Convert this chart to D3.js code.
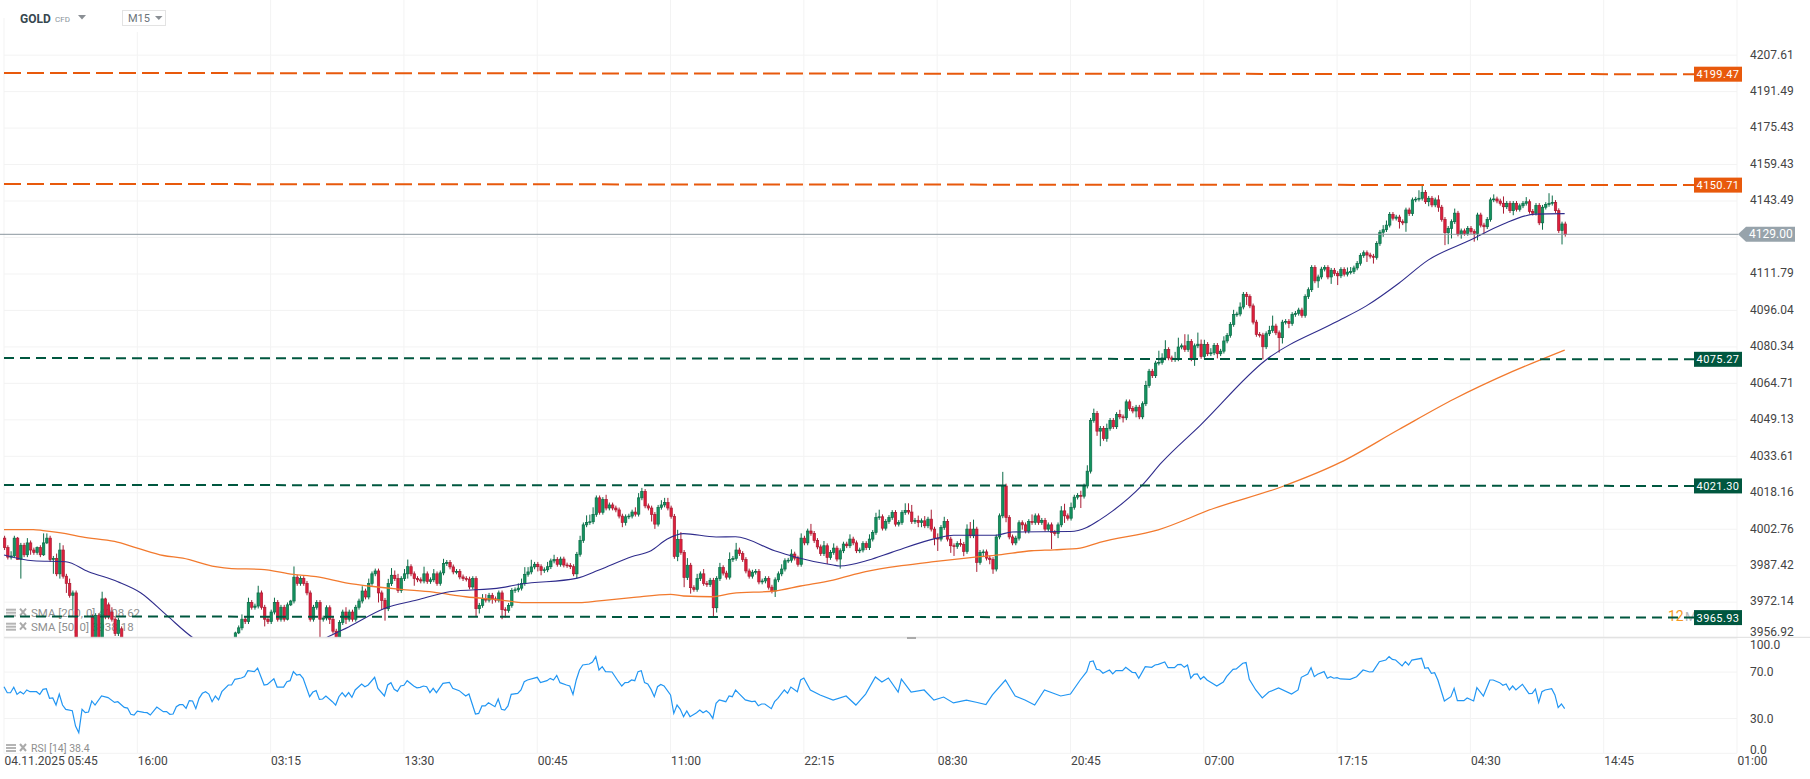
<!DOCTYPE html>
<html>
<head>
<meta charset="utf-8">
<script src="https://d3js.org/d3.v7.min.js"></script>
<style>
  html, body { margin: 0; padding: 0; background: #fff; overflow: hidden; }
  svg { display: block; font-family: Roboto, sans-serif; }
</style>
</head>
<body>
<svg id="chart" width="1810" height="779"></svg>
<script>
// M15 closes, one per candle
const closes = [
  3995,3991,3991.5,3999,3990,3996,3992,3997,3994,3993,3995,3992,3997,3999,3990,3990.5,3984,3994,3983,3980,
  3975,3976,3952,3950,3948,3949,3956,3955,3966.5,3957,3973.5,3966,3966,3965,3959,3964.6,3952,3950,3948,3945,
  3943,3942,3940,3938,3940,3942,3941,3939,3938,3936,3935,3937,3938,3936,3935,3938,3940,3941,3943,3944,
  3945,3946,3947,3948,3949,3950,3951,3952,3953,3954,3955,3959.3,3961.4,3965,3964,3972,3970,3970.5,3976,3970,
  3965,3964,3968,3972,3965,3970,3965,3971,3972.6,3982.6,3980,3982,3980,3976,3965,3970,3972,3965,3965.5,3969.8,
  3965,3960,3957.5,3963.6,3968,3965,3968,3965,3970,3972.6,3976.8,3974.3,3980,3984,3985.2,3976,3972.9,3969.4,3979.9,3983.4,
  3982,3977,3982,3984,3987,3984,3982,3981.5,3981,3984,3980.8,3981.5,3984,3980,3984.4,3988.3,3988.8,3986.9,3984.8,3985,
  3982.7,3982,3981.8,3978.5,3982,3969.4,3970.8,3973.5,3973,3975,3973.5,3973,3976,3969,3968.7,3970.8,3977,3977.3,3978,3980,
  3983.8,3984.8,3986.9,3988,3987,3985.4,3985.7,3987,3989.4,3990,3988,3990.2,3987.7,3987.5,3987,3984,3992.2,3998,4004.6,4005.6,
  4005.9,4009,4016,4009.9,4015.3,4011.7,4013,4011.7,4010.9,4008.3,4005.6,4008,4008.3,4010,4009.1,4016,4018.7,4012.6,4011.7,4009,
  4004.9,4012,4013,4014,4011.7,4008.2,3991.3,3998.5,3993,3982.4,3987.6,3978.2,3977.5,3982,3984,3980,3979.5,3981.3,3969.8,3982,
  3986.6,3984.3,3982.6,3990,3990.5,3994,3992.5,3990,3985.2,3983,3984.7,3985,3980.6,3981,3982,3978.4,3976.8,3981.5,3984,3986,
  3989.5,3989.7,3992.3,3990.6,3988,3999,3997,4002,4001,3998,3995.3,3992.5,3995.8,3990.9,3993,3994.8,3990.2,3993.7,3996.5,3995.8,
  3998.6,3997,3993.7,3994,3996.7,3995,3998.6,4001.4,4007.7,4008,4003.2,4006,4007.7,4009.8,4004.9,4005.6,4009.8,4010.7,4010,4006,
  4006.5,4005.6,4006.3,4004.2,4007,4002.8,3999,3998.6,4003.5,4006,3998.6,3995.8,3995.5,3996.7,3996.4,3993.4,4002.8,4000,4002.8,3988.8,
  3993,3993.2,3990.6,3990,3986,3999.5,4008.4,4021,4007.7,3999.5,3997,3999,4005.5,4004.6,4002,4006,4005.6,4008.4,4005.6,4006.5,
  4002.8,4004.6,4001.4,4001,4004.6,4010.5,4008.4,4007.4,4012,4016.3,4017,4016.7,4021,4027.3,4048.9,4051.9,4044.3,4045.5,4041.2,4045.5,
  4048.9,4046.2,4051.4,4050.4,4050,4056.8,4054,4052.9,4054.5,4050.4,4056,4063.8,4069.9,4068,4073.4,4073.7,4075.6,4079.2,4075.6,4074.9,
  4075.2,4080.3,4080.8,4079.2,4082.7,4075.2,4080.8,4081.5,4076.2,4081.4,4077.4,4077.8,4081,4077.4,4078.5,4082.9,4085.3,4090,4094.3,4094.5,
  4097.5,4103,4102,4098,4091,4085.7,4085.4,4080.4,4086,4087.4,4089.3,4086.4,4084.3,4091,4091.3,4090.4,4094.3,4094.8,4096.2,4093.9,
  4102,4105,4114.6,4108.8,4110.5,4113.9,4114.6,4110.5,4113.4,4112,4111,4113.7,4111.7,4112.6,4112.8,4114.4,4116.4,4119.8,4121,4120,
  4119.5,4119,4125,4129.9,4131,4133,4137.7,4136,4136.5,4134.5,4134,4139.6,4138,4144,4144.3,4144.7,4147.3,4143.2,4144.7,4141.8,
  4144,4140.8,4135.5,4129.7,4131.6,4134.5,4138.2,4129.1,4130.5,4129.4,4131.6,4130.2,4129.4,4137.4,4133,4132.3,4135.5,4144,4144.4,4143.5,
  4142.5,4141,4142.5,4139.3,4142.5,4139.9,4141.4,4142.5,4143.2,4139,4138.2,4141.6,4134,4140.8,4142,4142.5,4142.9,4139.3,4130.6,4133.5,4129
];
// wick lengths above / below the body
const wickUp = [
  1,1,2,1,0.5,1,1,2,1,1,0.5,1,4,2,1,1,2,3,2,1,
  2,1,1,0,0,0,1,1,1,1,3,0.5,1,2,1,1,1,0,0,0,
  0,0,0,0,0,0,0,0,0,0,0,0,0,0,0,0,0,0,0,0,
  0,0,0,0,0,0,0,0,0,0,0,0.5,1,2,1,2,1,1,3,1,
  1,1,1,2,1,1,1,1,0.5,4.5,1,1,1,1,1,1,1,1,1,1,
  1,1,1,1,1,2,1,1,1,1,2,1,2,1,1,1,1,1,2,3,
  2,2,1,2,3,1,1,1,1,3,1,1,2,1,1,2,1,1,1,1,
  1,1,1,1,1,1,1,2,2,1,1,1,1,1,1,1,1,1,2,2,
  3,2,3,1,1,1,1,2,1,2,1,1,1,1,1,1,1,2,1,3,
  3,3,1,1,1,2,1,1,1,1,1,1,1,1,2,2,1.5,1,1,1,
  1,1,2,2,2,1,1,4,3,1,3,1,1,2,1,2,1,1,1,1,
  2,1,1,3,1,3,1,1,1,1,1,1,1,1,1,1,1,1,1,2,
  1,1,2,1,1,2,1,1,3,1,1,1,2,1,1,2,1,1,1,1,
  2,1,1,1,1,1,2,1,2,3,1,1,1,1,1,1,1,3,3,3,
  1,2,1,2,1,4,1,2,1,2,1,1,1,1,2,1,2,3,4,1,
  1,1,1,1,1,1,1,6,1,1,1,1,1,1,1,1,3,1,1,1,
  1,1,1,1,1,2,3,1,2,1,1,2,1,2.5,1,2,1,1,1,2,
  1,1,1,2,1,1,1,1,1,1,1,2,1,1,1,5,2,4,1,1,
  3,4,1,5,3,1,1,5,2,2,1,2,1,1,1,2,1,1,2,1,
  2,1,1,1,1,1,1,1,1,2,4.5,1,1,1,1,1,1,1,1,1,
  1,1,1,1,1,1,1,1,1,1,1,1,1,2,2,1,1,1,1,1,
  1,1,1,1,2,2,1,1,1,1,1,1,1,1,1,3.5,3,1,1,1,
  1,2,1,1,1,1,2,1,1,1,1,1,1,1,1,1,1,1,2,1,
  1,3,1,1,1,1,1,1,2,1,1,1,1,1,1,4.4,3,1,1,1,1
];
const wickDown = [
  1,1,1,0.5,0,8,1,1,2,1,1,1,0.5,0.5,1,6,1,2,1,4,
  1,6,1,0,0,0,3,0,0,0,1,1,1,1,1,1,0,0,0,0,
  0,0,0,0,0,0,0,0,0,0,0,0,0,0,0,0,0,0,0,0,
  0,0,0,0,0,0,0,0,0,0,0,0,0.5,1,1,1,1,1,1,1,
  3,1,1,1,1,1,1,0.5,0.5,1,1,1,1,1,1,1,1,8,1,1,
  2,1,1,1,1,2,1,1,1,1,1,1,1,1,1,4,4,5,1,1,
  1,1,1,1,2,1,3,1,1,1,1,1,1,1,1,1,1,1,1,1,
  1,1,1,1,1,3.3,2,1,1,1,2,1,1,4,3,1,1,1,1,1,
  1,1,1,1,2,2,1,1,1,1,1,1,1,1,1,1,2,1,1,1,
  1,1,1,1,1,1,1,1,1,1,2,1.3,1,1,1,1,1,1,1,3,
  2,1,1,1,1,1,1,2,1,4,1,2.5,1,1,1,1,1,1,3.6,2,
  1,1,1,1,1,1,1,1,1,1,1,1,1,1,1,1,1,2.5,1,1,
  1,1,1,1,1,1,1,1,1,1,1,1,1,2.8,1,1,1,4,1,1,
  1,1,1,1,1,1,1,1,1,1,1,1,1,1,1,1,1,1,1,1,
  1,2,2,1,1,1,3,5,1,1,1,3,4,1,1,2,1,1,1,4,
  1,2,1,2,2,1,1,1,2,1,1,1,1,2,1,1,1,1,1,1,
  1,1,7,1,2,1,3,1,1,1,1,5,1,1,1,1,2,6.4,1,1.4,
  1,1,1,1,2,1,1,1,2.7,1,1,1,1,1,1,1,1,1,1,1,
  1,1,1,1,1,1,3,1,1,1,1,1,1,2,1,1,1,1,1,1,
  1,1,3.6,1,1,1,1,5.4,1,1,1,1,6.4,2.5,1,2,1,1,1,1,
  1,1,1,1,3,1,1,1,3,1,4,1,1,1,1,1,1,1,1,3,
  1,2.7,1,1,2,1,1,1,1,3,1,3.9,1,1,1,1,1,1,2,1,
  1,2,1,5.4,5,4.4,1,1,2,1,1,1,3.6,3,1,3,1,1,1,1,
  1,3,1,1,2,1,1,1,1,1,1,1,1,3,1,1,1,1,1,6,1
];
// candles whose open sits away from the previous close
const gapIndex = [0, 27, 32, 33, 36];
const gapOpen = [3999, 3966, 3971, 3968, 3961];

// moving averages, read at the points where the curves bend
const sma200Index = [0,9,12,19,24,34,41,49,55,65,70,79,89,96,106,112,122,132,142,153,160,177,183,193,205,209,218,224,237,245,255,265,276,286,298,306,316,323,331,337,355,372,393,411,429,446,464,480];
const sma200Value = [4002.6,4002.6,4002.2,4000.9,3999.5,3997.6,3994.8,3991.7,3990.6,3987,3986.2,3985.9,3983.8,3982.8,3980,3978.9,3977.5,3976.3,3974.4,3973,3971.9,3971.9,3972.7,3974,3975.4,3974.7,3974.4,3975.8,3976.8,3978.9,3981.4,3984.9,3987.4,3989.1,3990.9,3992,3993.7,3994.1,3994.8,3997.2,4002.5,4011.5,4020.7,4031,4045,4058,4069.8,4079];
const sma50Index = [0,9,19,26,35,42,50,58,70,80,90,100,106,117,127,137,153,159,176,183,193,199,204,209,219,225,237,243,255,257,266,273,287,292,305,310,328,333,337,341,350,356,368,388,409,419,429,438,451,461,471,480];
const sma50Value = [3991.9,3989.5,3989.1,3984.9,3980.7,3976.1,3966.7,3957.4,3950,3946,3950,3957.9,3961.8,3969.5,3973,3976.5,3978.2,3979.7,3982.1,3985.6,3991.2,3993.7,3998.6,4000.9,3999.5,3999.6,3993.7,3991.2,3987.7,3987.3,3989.8,3993,3999,4000.2,4000.2,4001.6,4001.8,4003.5,4006.7,4010.5,4021.3,4030.9,4046.9,4074.6,4090.6,4098,4107.8,4117.8,4126.5,4133.4,4137.8,4138];

const rsiIndex = [0,1,2,3,4,5,6,7,8,10,11,12,13,14,15,16,17,18,19,21,22,23,24,25,26,27,28,30,32,34,35,37,38,39,40,41,43,44,45,47,49,50,51,52,53,54,55,56,57,58,59,60,61,62,63,64,65,66,67,69,70,71,73,74,75,77,78,80,81,83,84,86,87,88,89,90,91,92,94,95,96,97,98,99,101,102,103,104,105,106,107,108,110,111,112,114,115,117,118,119,120,121,122,123,124,126,127,128,129,130,131,132,133,135,137,138,140,142,143,145,146,147,148,149,151,152,153,154,155,156,158,159,160,161,164,165,167,168,169,170,171,173,174,175,176,177,178,180,181,182,183,184,185,187,189,190,191,192,193,194,195,196,197,198,199,200,201,202,203,205,206,207,208,209,210,211,213,214,215,216,217,218,219,220,222,223,224,225,226,228,230,231,232,233,234,236,237,238,240,241,242,244,245,246,248,251,255,259,262,265,268,270,272,275,276,279,283,286,289,292,296,299,302,304,308,311,314,317,320,325,328,331,333,334,335,336,337,338,340,341,342,344,345,347,348,349,351,353,354,355,357,358,360,361,362,363,364,365,366,367,368,369,370,372,373,375,376,378,379,381,382,383,385,387,389,392,396,398,399,401,402,403,404,406,407,408,409,410,411,414,416,418,420,421,423,425,426,427,428,430,431,432,433,436,437,438,439,440,441,443,445,446,447,449,450,452,453,455,457,458,460,461,462,463,464,465,467,469,470,471,472,473,474,476,477,478,479,480];
const rsiValue = [57.4,52.2,52.2,56.9,50.8,53.1,51.1,54.6,53.1,53.1,50.8,55.1,55.7,47.4,47.7,41.6,51.1,41.6,37.9,36.7,23.5,17.8,37.9,35,35.6,45.1,41.6,49.4,48,43.9,44.5,39.6,39,33.6,33,36.4,35.3,35,33,39.9,35.9,35.9,33.6,33.9,40.2,41.9,41.9,38.8,45.4,45.1,38.5,47.4,51.7,53.1,51.1,44.5,49.4,46,53.1,58.9,58.9,63.8,64.9,66.1,71.2,70.4,73.5,58.9,59.4,64.3,57.1,57.1,61.7,62.6,70.4,67.5,68.1,64.6,48.8,52.8,54,46.5,46.8,49.4,44.5,41.6,48.8,52.3,48.8,52.3,48.2,54.6,59.7,57.4,58.9,65.5,56,49.4,58.9,60.9,55.1,53.4,58,58.6,62.6,58,56.5,56.9,58,57.4,52.3,56,52.3,60.3,61.2,56,54,49.4,51.1,33.9,34.4,40.8,40.8,43.6,40.2,46.8,37.9,37.3,40.8,50.8,51.7,54.6,61.7,63.2,65.5,60.9,62.6,64.6,63.2,67.2,60.9,58.9,58,50.8,63.2,71.8,76.1,77,78.7,83.3,71.8,74.7,70.4,70.1,61.7,58,60.9,61.2,63.2,62.6,70.4,71.2,60.9,59.7,55.1,48.8,57.4,59.4,58,50.3,34.4,41.6,37.9,31.6,36.5,31.6,35,37.3,35,36.7,34.4,30.1,43.1,46,44.5,49.4,48.8,54.6,51.7,46,44.5,45,41,42.5,42.5,38.5,44.5,47.4,54.6,51.7,57.1,53.1,63.2,64.9,54.6,50.3,45.9,49.4,41.6,51.1,65.8,61.5,64.9,52.8,64,52.8,54.6,45.9,48.5,43.4,45.9,44,42,50.3,63.2,49.4,45.9,41.6,54.6,49.4,51.1,63.2,70.4,79,79.6,72.4,71.8,69,71.8,68.4,71.3,71.3,74.1,69.8,69.5,64.7,74.7,74.1,76.1,76.7,78.7,73.8,73.8,76.4,76.7,74.1,76.1,64.7,68.1,68.4,63.8,66.1,63.2,59.7,58,61.5,66.1,72.4,72.7,77.6,78.2,63.8,54.6,47.7,52.8,56.3,51.1,54.6,65.5,68.4,73.8,66.1,68.1,70.4,64.7,66.1,64.7,65.2,64.1,63.8,66,71.8,70.1,70.4,79,80.4,83.3,81,80.4,75.3,79,76.1,80.4,81.9,73.3,73.8,68.9,69.5,63.2,45.1,48.8,56,45.4,45.4,47.7,45.1,56.6,49.4,63.2,63.2,60.9,58.6,59.8,54.6,58,54.6,59.5,51.4,51.7,55.4,43.9,53.1,54.6,55.7,50.3,39.4,42.5,38.5];

// price scale and time scale labels
const priceTicks = [4207.61,4191.49,4175.43,4159.43,4143.49,4127.62,4111.79,4096.04,4080.34,4064.71,4049.13,4033.61,4018.16,4002.76,3987.42,3972.14,3956.92];
const rsiTicks = [100,70,30,0];
const timeLabels = ["04.11.2025 05:45","16:00","03:15","13:30","00:45","11:00","22:15","08:30","20:45","07:00","17:15","04:30","14:45","01:00"];
const candlesPerLabel = 41;

// drawn levels: labelled price on the right, tiny drift at the left end
const levelPrices = [4199.47,4150.71,4075.27,4021.30,3965.93];
const levelLeft = [4199.75,4150.95,4075.55,4021.45,3966.15];
const levelColors = ["#e8590c","#e8590c","#00573f","#00573f","#00573f"];
const lastPrice = 4129.00;

const green = "#14935f", greenDark = "#0b6b47", red = "#df1f3c", redDark = "#a81c33";
const gridColor = "#f3f3f3";
const paneTop = 637.3, rsiBottom = 753.3;

const x = d3.scaleLinear().domain([0, candlesPerLabel * 13]).range([4, 1737]);
const y = d3.scaleLog().domain([3956.92, 4207.61]).range([638.6, 55.2]);
const yRsi = d3.scaleLinear().domain([0, 100]).range([rsiBottom, paneTop]);

const opens = closes.map((c, i) => {
  const g = gapIndex.indexOf(i);
  return g >= 0 ? gapOpen[g] : closes[i - 1];
});
const candles = closes.map((c, i) => ({
  i, open: opens[i], close: c,
  high: Math.max(opens[i], c) + wickUp[i],
  low: Math.min(opens[i], c) - wickDown[i]
}));

const svg = d3.select("#chart");
svg.append("defs").append("clipPath").attr("id", "pane")
  .append("rect").attr("x", 3).attr("y", 0).attr("width", 1734).attr("height", paneTop);

// grid
const grid = svg.append("g").attr("stroke", gridColor).attr("stroke-width", 1);
grid.selectAll(".v").data(timeLabels).join("line")
  .attr("x1", (d, i) => x(i * candlesPerLabel)).attr("x2", (d, i) => x(i * candlesPerLabel))
  .attr("y1", 0).attr("y2", rsiBottom);
grid.selectAll(".h").data(priceTicks).join("line")
  .attr("x1", 4).attr("x2", 1737).attr("y1", d => y(d)).attr("y2", d => y(d));
grid.selectAll(".r").data(rsiTicks).join("line")
  .attr("x1", 4).attr("x2", 1737).attr("y1", d => yRsi(d)).attr("y2", d => yRsi(d));

// header covers the top of the grid
svg.append("rect").attr("x", 0).attr("y", 0).attr("width", 100).attr("height", 18).attr("fill", "#fff");
svg.append("rect").attr("x", 100).attr("y", 0).attr("width", 70).attr("height", 32).attr("fill", "#fff");
svg.append("text").attr("x", 20).attr("y", 23).attr("font-size", 12).attr("font-weight", 700).attr("fill", "#37474f").text("GOLD");
svg.append("text").attr("x", 55).attr("y", 22).attr("font-size", 8).attr("fill", "#8a949b").text("CFD");
svg.append("path").attr("d", "M78 15h8l-4 4.5z").attr("fill", "#8a8f94");
svg.append("rect").attr("x", 122.5).attr("y", 10.5).attr("width", 43).attr("height", 15).attr("fill", "#fff").attr("stroke", "#e3e3e3");
svg.append("text").attr("x", 128).attr("y", 22).attr("font-size", 11).attr("fill", "#6b747a").text("M15");
svg.append("path").attr("d", "M155 16h7.5l-3.7 4z").attr("fill", "#8a8f94");

// indicator captions
const legendRows = [["SMA [200, 0] 4008.62", 612.7], ["SMA [50, 0] 3938.18", 626.7], ["RSI [14] 38.4", 748]];
const legend = svg.append("g").attr("fill", "#8f8f8f");
legendRows.forEach(([label, ly], n) => {
  const fs = n === 2 ? 10.5 : 11.5;
  legend.append("text").attr("x", 31).attr("y", ly + 4).attr("font-size", fs).text(label);
  [-4, -1, 2].forEach(o => legend.append("rect").attr("x", 6).attr("y", ly + o).attr("width", 10).attr("height", 2).attr("fill", "#b5b5b5"));
  legend.append("path").attr("d", `M20 ${ly - 4}l6 7m0 -7l-6 7`).attr("stroke", "#aaa").attr("stroke-width", 2).attr("fill", "none");
});

// candles
const pane = svg.append("g").attr("clip-path", "url(#pane)");
const cg = pane.append("g").selectAll("g").data(candles).join("g");
cg.append("line")
  .attr("x1", d => x(d.i) + 0.6).attr("x2", d => x(d.i) + 0.6)
  .attr("y1", d => y(d.high)).attr("y2", d => y(d.low))
  .attr("stroke", d => d.close >= d.open ? greenDark : redDark).attr("stroke-width", 1);
cg.append("rect")
  .attr("x", d => x(d.i) - 0.6).attr("width", 2.4)
  .attr("y", d => y(Math.max(d.open, d.close)))
  .attr("height", d => Math.max(0.8, y(Math.min(d.open, d.close)) - y(Math.max(d.open, d.close))))
  .attr("fill", d => d.close >= d.open ? green : red)
  .attr("stroke", d => d.close >= d.open ? greenDark : redDark).attr("stroke-width", 0.7);

// moving averages
const smaLine = d3.line().curve(d3.curveMonotoneX).x(d => x(d[0])).y(d => y(d[1]));
pane.append("path").attr("d", smaLine(d3.zip(sma200Index, sma200Value)))
  .attr("fill", "none").attr("stroke", "#f27a2e").attr("stroke-width", 1.3);
pane.append("path").attr("d", smaLine(d3.zip(sma50Index, sma50Value)))
  .attr("fill", "none").attr("stroke", "#2f2c8c").attr("stroke-width", 1.1);

// countdown next to the lowest level
svg.append("text").attr("x", 1668).attr("y", 621).attr("font-size", 14).attr("fill", "#f59a23").text("12");
svg.append("text").attr("x", 1685).attr("y", 621).attr("font-size", 13).attr("fill", "#b8b8b8").text("M");

// levels
const levels = svg.append("g");
levels.selectAll("line").data(levelPrices).join("line")
  .attr("x1", 4).attr("x2", 1694)
  .attr("y1", (d, i) => y(levelLeft[i])).attr("y2", d => y(d) + 0.6)
  .attr("stroke", (d, i) => levelColors[i]).attr("stroke-width", 2)
  .attr("stroke-dasharray", (d, i) => i < 2 ? "17 6" : "10 6");
levels.selectAll("rect").data(levelPrices).join("rect")
  .attr("x", 1694).attr("width", 48).attr("y", d => y(d) - 6.9).attr("height", 15)
  .attr("fill", (d, i) => levelColors[i]);
levels.selectAll("text").data(levelPrices).join("text")
  .attr("x", 1718).attr("y", d => y(d) + 4.6).attr("text-anchor", "middle")
  .attr("font-size", 11).attr("letter-spacing", 0.4).attr("fill", "#fff")
  .text(d => d3.format(".2f")(d));

// current price
svg.append("line").attr("x1", 0).attr("x2", 1738).attr("y1", y(lastPrice)).attr("y2", y(lastPrice))
  .attr("stroke", "#8a969e").attr("stroke-width", 1);

// pane divider
svg.append("line").attr("x1", 4).attr("x2", 1810).attr("y1", paneTop).attr("y2", paneTop).attr("stroke", "#dedede");
svg.append("rect").attr("x", 907).attr("y", 637).attr("width", 9).attr("height", 2).attr("fill", "#aaa");

// rsi
svg.append("path").attr("d", d3.line().x(d => x(d[0])).y(d => yRsi(d[1]))(d3.zip(rsiIndex, rsiValue)))
  .attr("fill", "none").attr("stroke", "#2196f3").attr("stroke-width", 1.2);

// axes
function styleAxis(g) {
  g.select(".domain").remove();
  g.attr("font-family", "Roboto, sans-serif").attr("font-size", 12);
  g.selectAll("text").attr("fill", "#444");
}
const priceAxis = svg.append("g").attr("transform", "translate(1737,0)")
  .call(d3.axisRight(y).tickValues(priceTicks).tickSize(0).tickPadding(13).tickFormat(d3.format(".2f")))
  .call(styleAxis);
priceAxis.selectAll("text").attr("y", -1);
priceAxis.selectAll(".tick").filter(d => d === 3956.92).select("text").attr("dy", "-0.15em");

const rsiAxis = svg.append("g").attr("transform", "translate(1737,0)")
  .call(d3.axisRight(yRsi).tickValues(rsiTicks).tickSize(0).tickPadding(13).tickFormat(d3.format(".1f")))
  .call(styleAxis);
rsiAxis.selectAll(".tick").filter(d => d === 100).select("text").attr("dy", "0.9em");
rsiAxis.selectAll(".tick").filter(d => d === 0).select("text").attr("dy", "0em");

svg.append("g").attr("transform", `translate(0,${rsiBottom})`)
  .call(d3.axisBottom(x).tickValues(timeLabels.map((d, i) => i * candlesPerLabel)).tickSize(0).tickPadding(3)
    .tickFormat((d, i) => timeLabels[i]))
  .call(styleAxis)
  .selectAll("text").attr("text-anchor", "start");

// last price tag on top of the axis
const tag = svg.append("g").attr("transform", `translate(0,${y(lastPrice)})`);
tag.append("path").attr("d", "M1738 0L1746 -7.5H1795V7.5H1746Z").attr("fill", "#97a3ab");
tag.append("text").attr("x", 1749).attr("y", 4).attr("font-size", 12).attr("fill", "#fff").text(d3.format(".2f")(lastPrice));
</script>
</body>
</html>
